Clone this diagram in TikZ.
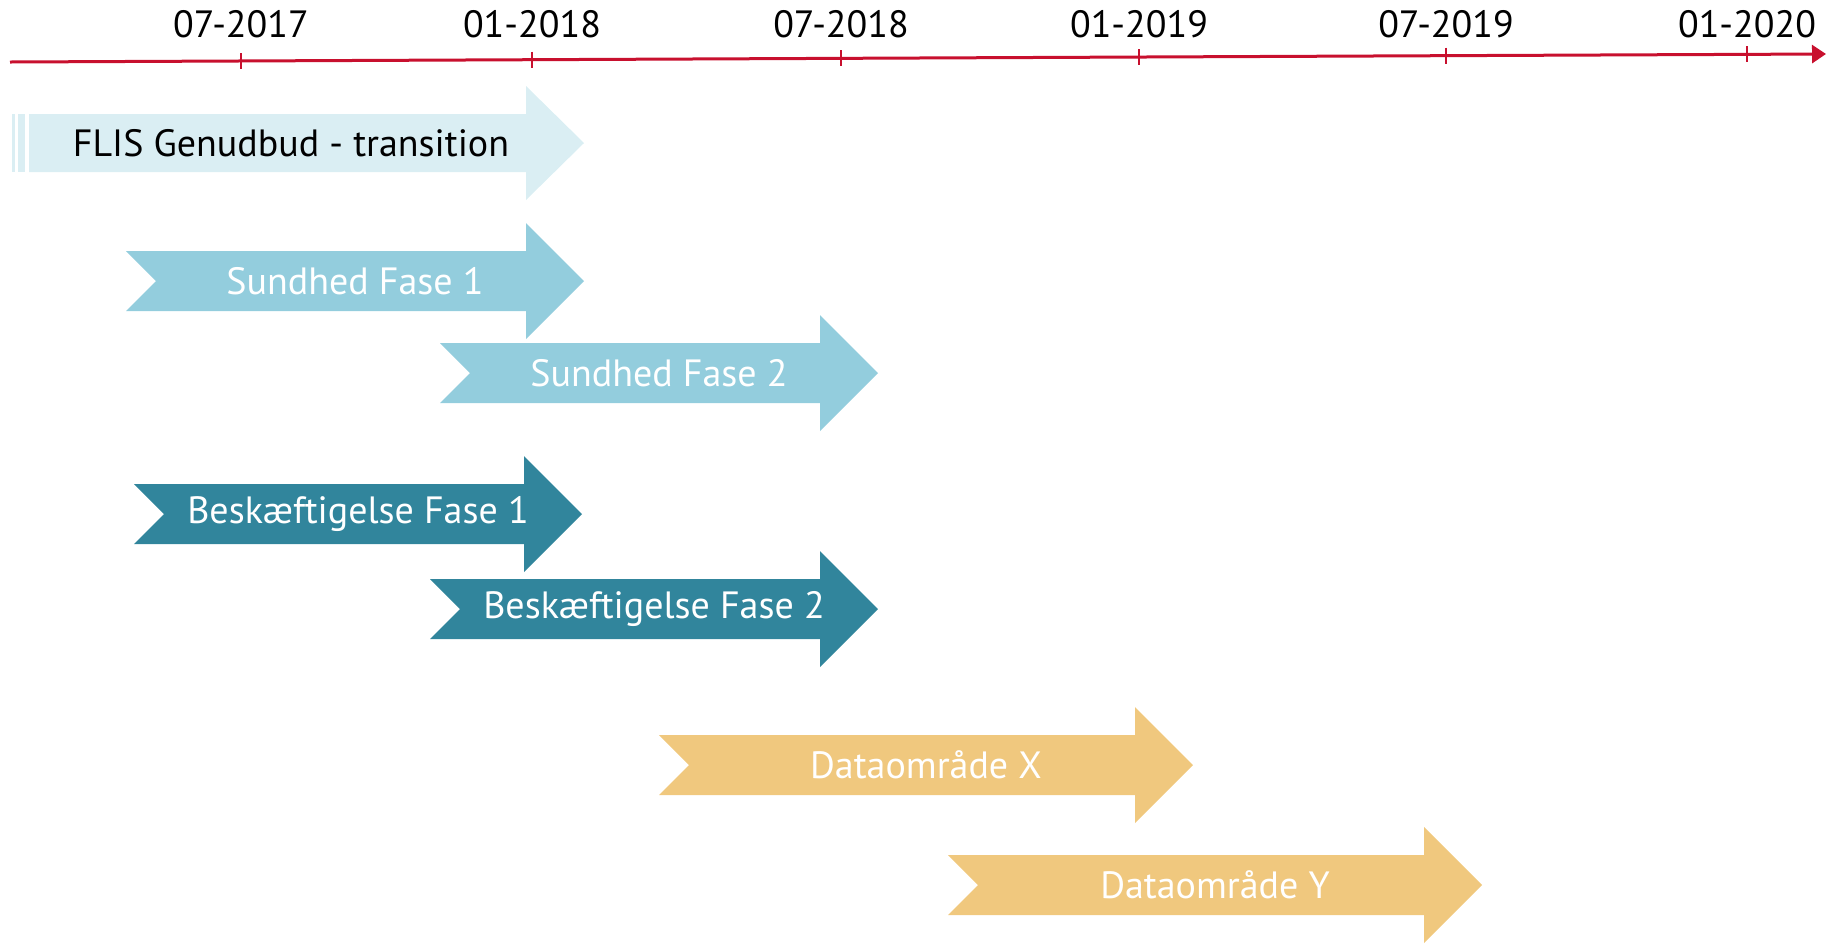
\documentclass[tikz,border=0pt]{standalone}
\usepackage{fontspec}
\setmainfont{PT Sans}
\usetikzlibrary{arrows.meta}
\definecolor{axisred}{RGB}{200,16,46}
\definecolor{flis}{RGB}{218,238,243}
\definecolor{sund}{RGB}{147,205,221}
\definecolor{besk}{RGB}{49,133,156}
\definecolor{data}{RGB}{240,200,126}
\tikzstyle{axis} = [draw=axisred, line width=1.5pt, -{Triangle[length=7pt,width=9pt]}]
\tikzstyle{tick} = [draw=axisred, line width=1pt]
\tikzstyle{date} = [font={\fontsize{19}{23}\selectfont}, inner sep=0pt, anchor=base]
\tikzstyle{phase} = [font={\fontsize{19}{23}\selectfont}, inner sep=0pt, text=white]
% bar with notched tail: style, name, left, head start, centre y, text
\newcommand{\phasebar}[6]{%
  \fill[#1] (#3,{#5-30}) -- (#4,{#5-30}) -- (#4,{#5-58}) -- ({#4+58},#5)
    -- (#4,{#5+58}) -- (#4,{#5+30}) -- (#3,{#5+30}) -- ({#3+30},#5) -- cycle;
  \node[phase](#2) at ({(#3+#4+58)/2},#5){#6};}

\begin{document}
\begin{tikzpicture}[x=0.5pt,y=-0.5pt]
  \useasboundingbox (0,0) rectangle (1826,944);
  % time axis
  \coordinate (a0) at (10,62);
  \coordinate (a1) at (1826,54);
  \draw[axis] (a0) -- (a1);
  \coordinate (t1) at (241,61.0);
  \coordinate (t2) at (532,59.7);
  \coordinate (t3) at (841,58.3);
  \coordinate (t4) at (1139,57.0);
  \coordinate (t5) at (1446,55.7);
  \coordinate (t6) at (1747,54.3);
  \foreach \t in {t1,t2,t3,t4,t5,t6}
    \draw[tick] (\t) ++(0,-8) -- ++(0,16);
  \node[date](d1) at (241,37){07-2017};
  \node[date](d2) at (532,37){01-2018};
  \node[date](d3) at (841,37){07-2018};
  \node[date](d4) at (1139,37){01-2019};
  \node[date](d5) at (1446,37){07-2019};
  \node[date](d6) at (1747,37){01-2020};
  % transition bar, runs in from the left
  \fill[flis] (12,114) rectangle (15,172);
  \fill[flis] (18,114) rectangle (25,172);
  \fill[flis] (29,114) -- (526,114) -- (526,86) -- (584,143) -- (526,200)
    -- (526,172) -- (29,172) -- cycle;
  \node[phase,text=black](flis) at (291,143){FLIS Genudbud - transition};
  % phases
  \phasebar{sund}{sund1}{126}{526}{281}{Sundhed Fase 1}
  \phasebar{sund}{sund2}{440}{820}{373}{Sundhed Fase 2}
  \phasebar{besk}{besk1}{134}{524}{514}{Beskæftigelse Fase 1}
  \phasebar{besk}{besk2}{430}{820}{609}{Beskæftigelse Fase 2}
  \phasebar{data}{datax}{659}{1135}{765}{Dataområde X}
  \phasebar{data}{datay}{948}{1424}{885}{Dataområde Y}
\end{tikzpicture}
\end{document}
